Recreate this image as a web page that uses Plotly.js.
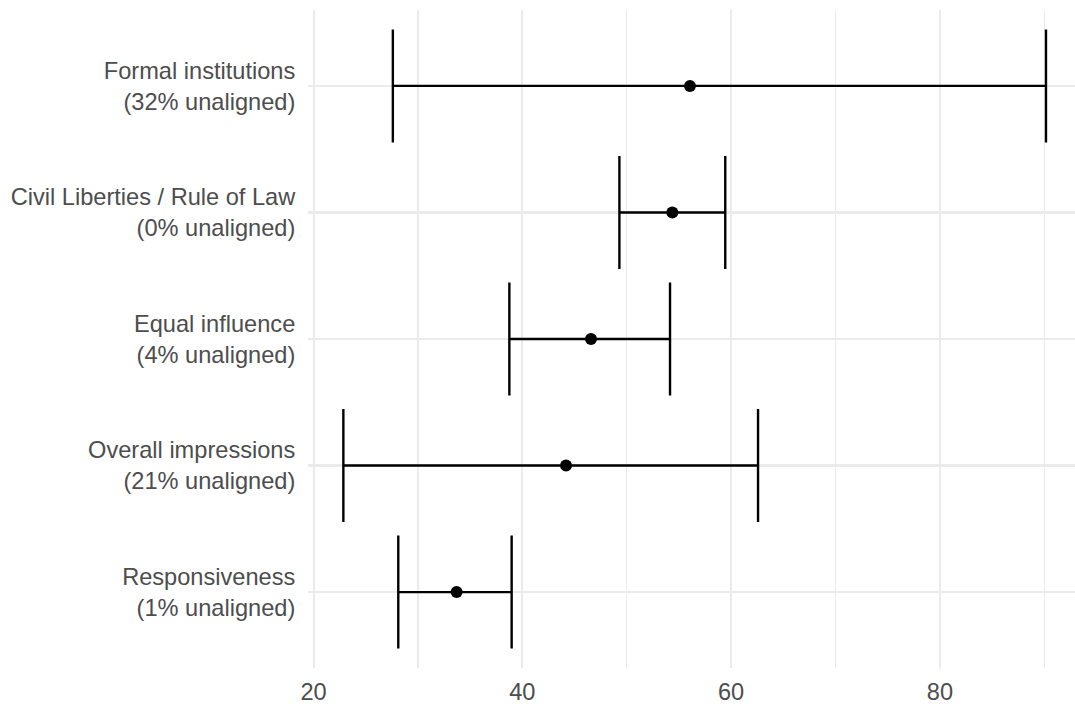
<!DOCTYPE html>
<html>
<head>
<meta charset="utf-8">
<script src="https://cdn.plot.ly/plotly-3.0.1.min.js"></script>
<style>html,body{margin:0;padding:0;background:#fff;}#chart{width:1075px;height:704px;}</style>
</head>
<body>
<div id="chart"></div>
<script>
// Categories (bottom to top)
const dimensions = ["Responsiveness", "Overall impressions", "Equal influence", "Civil Liberties / Rule of Law", "Formal institutions"];
const unalignedPct = [1, 21, 4, 0, 32];
// Values
const estimate = [33.71, 44.19, 46.58, 54.37, 56.06];
const lower = [28.12, 22.86, 38.76, 49.30, 27.60];
const upper = [38.98, 62.58, 54.15, 59.44, 90.16];
// Tick labels
const xTickVals = [20, 40, 60, 80];

const labels = dimensions.map((d, i) => d + "<br>(" + unalignedPct[i] + "% unaligned)");

const trace = {
  type: "scatter",
  mode: "markers",
  x: estimate,
  y: labels,
  marker: {color: "#000000", size: 12},
  error_x: {
    type: "data",
    symmetric: false,
    array: upper.map((u, i) => u - estimate[i]),
    arrayminus: lower.map((l, i) => estimate[i] - l),
    color: "#000000",
    thickness: 2.4,
    width: 56.5
  },
  hoverinfo: "x+y"
};

const font = {family: "Liberation Sans, Arial, sans-serif", size: 23.6, color: "#4d4d4d"};

const layout = {
  width: 1075,
  height: 704,
  margin: {l: 308, r: 0, t: 10, b: 36},
  paper_bgcolor: "#ffffff",
  plot_bgcolor: "#ffffff",
  showlegend: false,
  font: font,
  xaxis: {
    range: [19.473, 92.94],
    tickvals: xTickVals,
    ticktext: xTickVals.map(String),
    showgrid: true,
    gridcolor: "#ebebeb",
    gridwidth: 2,
    zeroline: false,
    showline: false,
    ticks: "outside",
    ticklen: 3,
    tickcolor: "rgba(0,0,0,0)",
    tickfont: font,
    minor: {tickvals: [30, 50, 70, 90], showgrid: true, gridcolor: "#ebebeb", gridwidth: 1.5, ticks: ""}
  },
  yaxis: {
    type: "category",
    categoryorder: "array",
    categoryarray: labels,
    range: [-0.6, 4.6],
    showgrid: true,
    gridcolor: "#ebebeb",
    gridwidth: 2.2,
    zeroline: false,
    showline: false,
    ticks: "outside",
    ticklen: 7,
    tickcolor: "rgba(0,0,0,0)",
    tickfont: font
  }
};

Plotly.newPlot("chart", [trace], layout, {displayModeBar: false, staticPlot: true});
</script>
</body>
</html>
